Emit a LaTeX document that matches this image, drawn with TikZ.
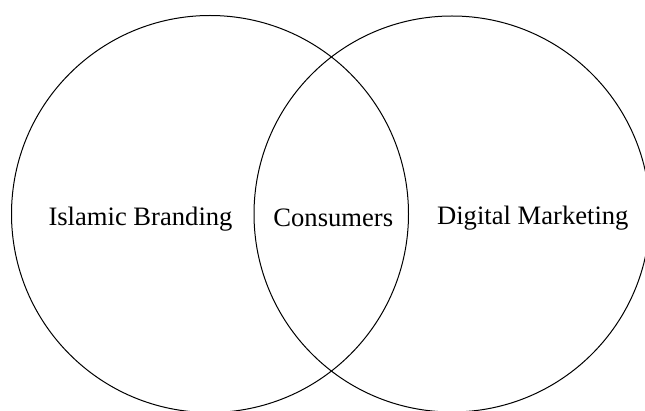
\documentclass[tikz,border=0pt]{standalone}
\usepackage{fontspec}
\setmainfont{Liberation Serif}
\usepackage{tikz}
\usetikzlibrary{
	positioning
}
\tikzset{
	set/.style={
		circle,
		draw,
		line width=1pt,
		inner sep=0pt,
		outer sep=0pt
	},
	setlabel/.style={
		anchor=base,
		inner sep=0pt,
		font=\fontsize{26.6}{30}\selectfont
	}
}

\begin{document}
\begin{tikzpicture}[x=1pt,y=1pt]
		\useasboundingbox (0,0) rectangle (645,410);
		\clip (0,0) rectangle (645,410);
		\draw
			node[set,minimum size=397pt] (branding)  at (210,196) {}
			node[set,minimum size=396pt] (marketing) at (452,196) {}

			node[setlabel] (brandingtext)  at (140.5,184) {Islamic Branding}
			node[setlabel] (consumers)     at (333.3,183.5) {Consumers}
			node[setlabel] (marketingtext) at (532.8,185) {Digital Marketing}
		;
	\end{tikzpicture}
\end{document}
